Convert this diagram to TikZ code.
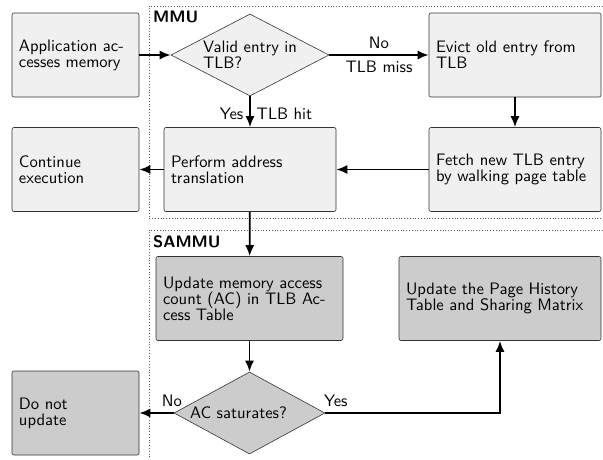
\documentclass[tikz,border=0pt]{standalone}
\usepackage{fontspec}
\setsansfont{lmsans10-regular}[Extension=.otf, BoldFont=lmsans10-bold]
\usetikzlibrary{shapes.geometric,arrows.meta}
\definecolor{boxlight}{RGB}{240,240,240}
\definecolor{boxdark}{RGB}{204,204,204}
\begin{document}
\begin{tikzpicture}[x=1pt,y=-1pt,
  every node/.style={font=\sffamily\fontsize{16.6}{16}\selectfont},
  box/.style={draw=black!80, rounded corners=2pt, line width=0.6pt, align=left, inner xsep=7pt, minimum height=84pt},
  topbox/.style={box, fill=boxlight},
  botbox/.style={box, fill=boxdark},
  dec/.style={draw=black!80, shape=diamond, line width=0.6pt, inner sep=0pt, aspect=1.93, align=left},
  arr/.style={-{Latex[length=11pt,width=9pt]}, line width=1.8pt},
  frame/.style={dotted, line width=0.8pt, black!65},
  title/.style={font=\sffamily\bfseries\fontsize{16.6}{16}\selectfont, inner sep=0pt, anchor=base west}
]
\useasboundingbox (0,0) rectangle (603,459);

% dotted frames
\coordinate (m1) at (603,6);
\coordinate (m2) at (149,6);
\coordinate (m3) at (149,218);
\coordinate (m4) at (603,218);
\draw[frame] (m1) -- (m2) -- (m3) -- (m4);
\coordinate (s1) at (603,230);
\coordinate (s2) at (149,230);
\coordinate (s3) at (149,459);
\draw[frame] (s1) -- (s2) -- (s3);
\node[title] (mmu) at (153,22) {MMU};
\node[title] (sammu) at (153,247) {SAMMU};

% nodes
\node[topbox, text width=113pt] (app) at (75.5,55) {Application ac-\\cesses memory};
\node[dec, fill=boxlight, minimum width=158pt, minimum height=82pt] (valid) at (250,55) {Valid entry in\\TLB?};
\node[topbox, text width=158pt] (evict) at (515,55) {Evict old entry from\\TLB};
\node[topbox, text width=113pt] (cont) at (75.5,169.5) {Continue\\execution};
\node[topbox, text width=158pt] (perf) at (250,169.5) {Perform address\\translation};
\node[topbox, text width=158pt] (fetch) at (515,169.5) {Fetch new TLB entry\\by walking page table};
\node[botbox, text width=173pt] (upd) at (249.5,298.5) {Update memory access\\count (AC) in TLB Ac-\\cess Table};
\node[botbox, text width=188pt] (pht) at (500,298.5) {Update the Page History\\Table and Sharing Matrix};
\node[dec, fill=boxdark, minimum width=151pt, minimum height=82pt, text width=119pt] (acs) at (249.5,413) {AC saturates?};
\node[botbox, text width=113pt] (dont) at (75.5,413) {Do not\\update};

% connectors
\draw[arr] (app) -- (valid);
\draw[arr] (valid) -- node[above=2pt] {No} node[below=2pt] {TLB miss} (evict);
\draw[arr] (valid) -- node[pos=0.75, anchor=base east, xshift=-2.5pt] {Yes} node[pos=0.75, anchor=base west, xshift=2.5pt] {TLB hit} (perf);
\draw[arr] (evict) -- (fetch);
\draw[arr] (fetch) -- (perf);
\draw[arr] (perf) -- (cont);
\draw[arr] (perf) -- (upd);
\draw[arr] (upd) -- (acs);
\draw[arr] (acs) -- node[pos=0.05, above=2pt] {No} (dont);
\draw[arr] (acs) -| node[pos=0.03, above=2pt] {Yes} (pht);
\end{tikzpicture}
\end{document}
